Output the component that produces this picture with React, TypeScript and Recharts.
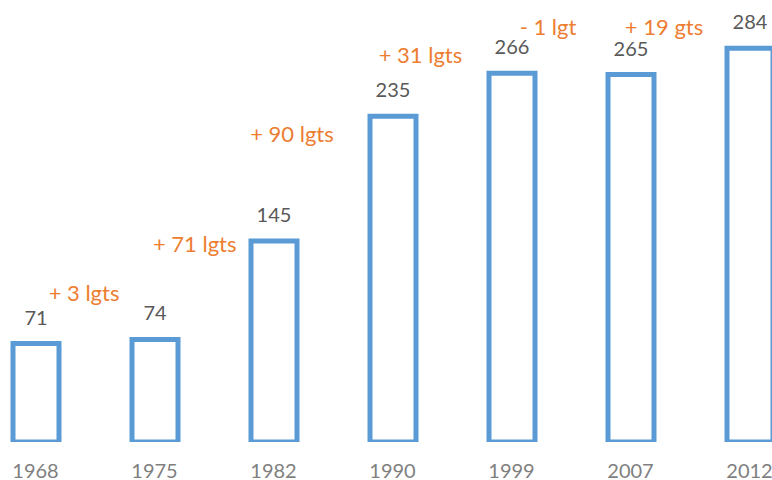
import * as React from "react"
import { ComposedChart, Bar, XAxis, YAxis, LabelList, ReferenceDot } from "recharts"

const years = ["1968", "1975", "1982", "1990", "1999", "2007", "2012"]
const counts = [71, 74, 145, 235, 266, 265, 284]

// change between two surveys, written between the bars
const changes = ["+ 3 lgts", "+ 71 lgts", "+ 90 lgts", "+ 31 lgts", "- 1 lgt", "+ 19 gts"]
// where each note sits: x in category index units, y in value units (baseline)
const changeAtX = [0.408, 1.338, 2.155, 3.235, 4.307, 5.282]
const changeAtY = [102, 137, 216, 273, 293.5, 293.5]

const data = years.map((year, i) => ({ year, count: counts[i] }))

const FONT = "Lato, 'Noto Sans', sans-serif"
const BAND = 119

export default function App() {
  return (
    <div
      style={{
        position: "absolute",
        left: 0,
        top: 0,
        width: 772,
        height: 480,
        overflow: "hidden",
        background: "#ffffff",
      }}
    >
      <div style={{ position: "absolute", left: -24, top: 0 }}>
        <ComposedChart
          width={BAND * years.length}
          height={480}
          data={data}
          margin={{ top: 26, right: 0, bottom: 0, left: 0 }}
        >
          <XAxis
            dataKey="year"
            axisLine={false}
            tickLine={false}
            tickSize={0}
            tickMargin={22}
            height={38}
            interval={0}
            tick={{ fill: "#7f7f7f", fontSize: 20, fontFamily: FONT }}
          />
          {/* index axis lined up with the band centres, for the notes */}
          <XAxis
            xAxisId="pos"
            type="number"
            domain={[0, years.length - 1]}
            padding={{ left: BAND / 2, right: BAND / 2 }}
            allowDataOverflow
            hide
          />
          <YAxis domain={[0, 300]} allowDataOverflow hide width={0} />
          <Bar
            dataKey="count"
            barSize={46}
            fill="#ffffff"
            stroke="#5B9BD5"
            strokeWidth={5}
            isAnimationActive={false}
          >
            <LabelList
              dataKey="count"
              position="top"
              offset={19}
              fill="#595959"
              fontSize={20}
              fontFamily={FONT}
            />
          </Bar>
          {changes.map((txt, i) => (
            <ReferenceDot
              key={txt}
              xAxisId="pos"
              x={changeAtX[i]}
              y={changeAtY[i]}
              shape={(p: any) => (
                <text
                  x={p.cx}
                  y={p.cy}
                  textAnchor="middle"
                  fill="#ED7D31"
                  fontSize={22}
                  fontFamily={FONT}
                >
                  {txt}
                </text>
              )}
            />
          ))}
        </ComposedChart>
      </div>
    </div>
  )
}
